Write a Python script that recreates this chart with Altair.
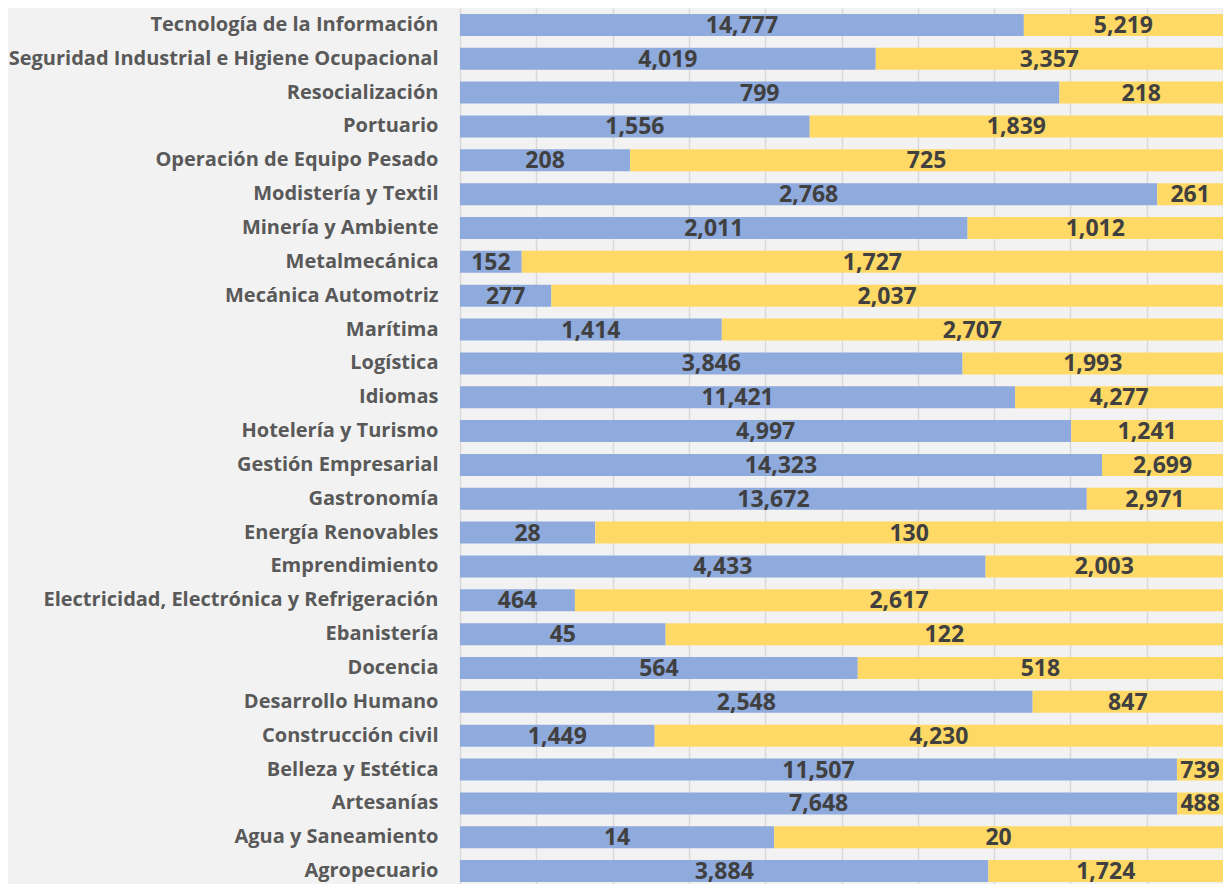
import altair as alt
import pandas as pd

categories = [
    "Tecnología de la Información",
    "Seguridad Industrial e Higiene Ocupacional",
    "Resocialización ",
    "Portuario",
    "Operación de Equipo Pesado",
    "Modistería y Textil",
    "Minería y Ambiente",
    "Metalmecánica",
    "Mecánica Automotriz",
    "Marítima",
    "Logística",
    "Idiomas",
    "Hotelería y Turismo",
    "Gestión Empresarial",
    "Gastronomía",
    "Energía Renovables",
    "Emprendimiento",
    "Electricidad, Electrónica y Refrigeración",
    "Ebanistería",
    "Docencia",
    "Desarrollo Humano",
    "Construcción civil",
    "Belleza y Estética",
    "Artesanías",
    "Agua y Saneamiento",
    "Agropecuario",
]
blue_values = [14777, 4019, 799, 1556, 208, 2768, 2011, 152, 277, 1414, 3846, 11421, 4997,
               14323, 13672, 28, 4433, 464, 45, 564, 2548, 1449, 11507, 7648, 14, 3884]
yellow_values = [5219, 3357, 218, 1839, 725, 261, 1012, 1727, 2037, 2707, 1993, 4277, 1241,
                 2699, 2971, 130, 2003, 2617, 122, 518, 847, 4230, 739, 488, 20, 1724]
series_names = ["A", "B"]
series_colors = ["#8FAADC", "#FFD966"]

rows = []
for c, b, y in zip(categories, blue_values, yellow_values):
    rows.append({"cat": c, "series": "A", "order": 0, "value": b})
    rows.append({"cat": c, "series": "B", "order": 1, "value": y})
df = pd.DataFrame(rows)

base = alt.Chart(df).transform_stack(
    stack="value",
    groupby=["cat"],
    as_=["x0", "x1"],
    offset="normalize",
    sort=[alt.SortField("order", order="ascending")],
).transform_calculate(
    mid="(datum.x0 + datum.x1) / 2",
    label="format(datum.value, ',')",
)

y_enc = alt.Y(
    "cat:N",
    sort=categories,
    title=None,
    scale=alt.Scale(paddingInner=0.35, paddingOuter=0.175),
    axis=alt.Axis(
        labelFont="Open Sans",
        labelFontSize=20,
        labelFontWeight="bold",
        labelColor="#595959",
        labelPadding=22,
        labelLimit=600,
        labelExpr="replace(datum.label, / $/, '\u00a0\u00a0')",
        ticks=False,
        domain=False,
        grid=False,
    ),
)

bars = base.mark_bar(stroke=None).encode(
    x=alt.X(
        "x0:Q",
        scale=alt.Scale(domain=[0, 1], nice=False),
        title=None,
        axis=alt.Axis(
            values=[i / 10 for i in range(11)],
            grid=True,
            gridColor="#D9D9D9",
            gridWidth=1.5,
            labels=False,
            ticks=False,
            domain=False,
        ),
    ),
    x2="x1:Q",
    y=y_enc,
    color=alt.Color(
        "series:N",
        scale=alt.Scale(domain=series_names, range=series_colors),
        legend=None,
    ),
)

texts = base.mark_text(
    font="Open Sans",
    fontSize=23,
    fontWeight="bold",
    color="#404040",
    align="center",
    baseline="middle",
    dy=1,
).encode(
    x="mid:Q",
    y=alt.Y("cat:N", sort=categories),
    text="label:N",
)

chart = (
    alt.layer(bars, texts)
    .properties(
        width=763,
        height=880,
        autosize="none",
        padding={"left": 452, "top": 0, "right": 0, "bottom": 0},
        background="#F2F2F2",
    )
    .configure_view(stroke=None)
)

chart.save("out.html", embed_options={"renderer": "svg", "actions": False})
